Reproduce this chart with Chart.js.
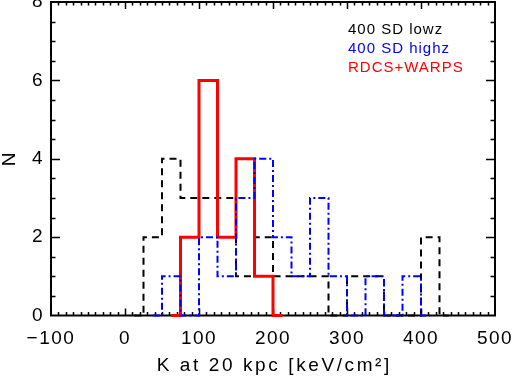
<!DOCTYPE html>
<html>
<head>
<meta charset="utf-8">
<script src="https://cdn.jsdelivr.net/npm/chart.js@4.4.1/dist/chart.umd.min.js"></script>
<style>
  html, body { margin: 0; padding: 0; background: #fff; }
  #wrap { width: 515px; height: 377px; }
</style>
</head>
<body>
<div id="wrap"><canvas id="entropyChart"></canvas></div>
<script>
// Histogram bin centres (25 keV cm^2 wide bins)
const binCenters = [12.5, 37.5, 62.5, 87.5, 112.5, 137.5, 162.5, 187.5, 212.5,
                    237.5, 262.5, 287.5, 312.5, 337.5, 362.5, 387.5, 412.5, 437.5];
const lowzCounts  = [0, 2, 4, 3, 3, 3, 1, 2, 1, 1, 1, 0, 1, 1, 0, 0, 2, 0];
const highzCounts = [null, 0, 1, 0, 2, 1, 3, 4, 2, 1, 3, 1, 0, 1, 0, 1, 0, null];
const rdcsCounts  = [null, null, 0, 2, 6, 2, 4, 1, 0, null, null, null, null, null, null, null, null, null];

const seriesLabels = ['400 SD lowz', '400 SD highz', 'RDCS+WARPS'];
const seriesColors = ['#000000', '#0000ff', '#ff0000'];

const xTitle = 'K at 20 kpc [keV/cm\u00b2]';
const yTitle = 'N';
const xRange = [-100, 500];
const yRange = [0, 8];
const xMajorStep = 100, xMinorStep = 10;
const yMajorStep = 2, yMinorStep = 0.5;

const FONT = "'Liberation Sans', Arial, sans-serif";

function toPoints(counts) {
    return binCenters.map((x, i) => ({ x: x, y: counts[i] }));
}

/**
 * Box frame with inward ticks on all four sides, x title and the text legend
 */
const frameTicks = {
    id: 'frameTicks',
    beforeDraw(chart) {
        chart.ctx.letterSpacing = '1.5px';
    },
    beforeDatasetsDraw(chart) {
        const { ctx, chartArea: a, scales: { x, y } } = chart;
        ctx.save();
        ctx.strokeStyle = '#000';
        ctx.lineWidth = 1.5;
        ctx.beginPath();
        const nx = Math.round((xRange[1] - xRange[0]) / xMinorStep);
        for (let i = 1; i < nx; i++) {
            const v = xRange[0] + i * xMinorStep;
            const px = Math.round(x.getPixelForValue(v)) + 0.5;
            const len = (v % xMajorStep === 0) ? 7 : 3.5;
            ctx.moveTo(px, a.bottom); ctx.lineTo(px, a.bottom - len);
            ctx.moveTo(px, a.top); ctx.lineTo(px, a.top + len);
        }
        const ny = Math.round((yRange[1] - yRange[0]) / yMinorStep);
        for (let i = 1; i < ny; i++) {
            const v = yRange[0] + i * yMinorStep;
            const py = Math.round(y.getPixelForValue(v)) + 0.5;
            const len = (v % yMajorStep === 0) ? 9 : 4.5;
            ctx.moveTo(a.left, py); ctx.lineTo(a.left + len, py);
            ctx.moveTo(a.right, py); ctx.lineTo(a.right - len, py);
        }
        ctx.stroke();
        ctx.lineWidth = 2;
        ctx.strokeRect(a.left, a.top, a.right - a.left, a.bottom - a.top);
        ctx.restore();
    },
    afterDraw(chart) {
        const { ctx, chartArea: a } = chart;
        ctx.save();
        // x axis title, IDL-style wide spacing
        ctx.font = '19px ' + FONT;
        ctx.letterSpacing = '2.6px';
        ctx.fillStyle = '#000';
        ctx.textAlign = 'center';
        ctx.textBaseline = 'alphabetic';
        ctx.fillText(xTitle, (a.left + a.right) / 2 + 1.3, 371);

        // legend: coloured labels only
        ctx.font = '15px ' + FONT;
        ctx.letterSpacing = '1px';
        ctx.textAlign = 'left';
        seriesLabels.forEach((label, i) => {
            ctx.fillStyle = seriesColors[i];
            ctx.fillText(label, 348, 33.5 + i * 19.2);
        });
        ctx.restore();
    }
};

const ctx = document.getElementById('entropyChart');
new Chart(ctx, {
    type: 'line',
    data: {
        datasets: [
            {
                label: seriesLabels[1],
                data: toPoints(highzCounts),
                borderColor: seriesColors[1],
                borderWidth: 2,
                borderDash: [7, 3, 2, 3],
                stepped: 'middle',
                pointRadius: 0,
                fill: false,
                clip: false
            },
            {
                label: seriesLabels[2],
                data: toPoints(rdcsCounts),
                borderColor: seriesColors[2],
                borderWidth: 3,
                stepped: 'middle',
                pointRadius: 0,
                fill: false,
                clip: false
            },
            {
                label: seriesLabels[0],
                data: toPoints(lowzCounts),
                borderColor: seriesColors[0],
                borderWidth: 2,
                borderDash: [7, 5],
                stepped: 'middle',
                pointRadius: 0,
                fill: false,
                clip: false
            }
        ]
    },
    options: {
        responsive: true,
        maintainAspectRatio: false,
        animation: false,
        layout: { padding: { top: 2, right: 20, left: 0, bottom: 0 } },
        plugins: {
            legend: { display: false },
            tooltip: { enabled: false }
        },
        scales: {
            x: {
                type: 'linear',
                min: xRange[0],
                max: xRange[1],
                grid: { display: false, drawTicks: false },
                border: { display: false },
                ticks: {
                    stepSize: xMajorStep,
                    autoSkip: false,
                    maxRotation: 0,
                    padding: 12,
                    color: '#000',
                    font: { family: FONT, size: 19 },
                    callback: v => String(v).replace('-', '\u2212')
                },
                title: { display: false },
                afterFit(scale) {
                    scale.height = 61.5;
                    scale.paddingLeft = 0;
                    scale.paddingRight = 0;
                }
            },
            y: {
                min: yRange[0],
                max: yRange[1],
                grid: { display: false, drawTicks: false },
                border: { display: false },
                ticks: {
                    stepSize: yMajorStep,
                    padding: 7,
                    color: '#000',
                    font: { family: FONT, size: 19 }
                },
                title: {
                    display: true,
                    text: yTitle,
                    color: '#000',
                    font: { family: FONT, size: 19, lineHeight: 1 },
                    padding: 0
                },
                afterFit(scale) {
                    scale.width = 51;
                    scale.paddingTop = 0;
                    scale.paddingBottom = 0;
                }
            }
        }
    },
    plugins: [frameTicks]
});
</script>
</body>
</html>
